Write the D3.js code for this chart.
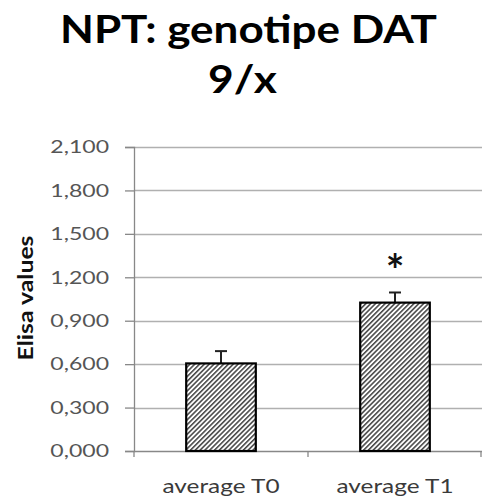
<!DOCTYPE html>
<html><head><meta charset="utf-8">
<script src="https://cdn.jsdelivr.net/npm/d3@7"></script>
<style>body{margin:0;background:#fff}svg{display:block}</style>
</head><body>
<script>
const categories = ["average T0", "average T1"];
const values = [0.605, 1.025];
const errors = [0.085, 0.07];
const significance = ["", "*"];
const yTicks = [0, 0.3, 0.6, 0.9, 1.2, 1.5, 1.8, 2.1];
const titleLines = ["NPT: genotipe DAT", "9/x"];
const yTitle = "Elisa values";

const W = 482, H = 499;
const m = {left: 134, right: 0, top: 147, bottom: 48};
const FONT = "Lato, 'Open Sans', sans-serif";
const svg = d3.select("body").append("svg").attr("width", W).attr("height", H);

function stretch(sel, k) {
  sel.each(function() {
    const w = this.getComputedTextLength();
    d3.select(this).attr("textLength", w * k).attr("lengthAdjust", "spacingAndGlyphs");
  });
}
function fitTo(sel, width) {
  sel.attr("textLength", width).attr("lengthAdjust", "spacingAndGlyphs");
}

const defs = svg.append("defs");
const pat = defs.append("pattern").attr("id", "hatch").attr("patternUnits", "userSpaceOnUse")
  .attr("width", 3.4).attr("height", 3.4).attr("patternTransform", "rotate(45)");
pat.append("rect").attr("width", 3.4).attr("height", 3.4).attr("fill", "#fff");
pat.append("line").attr("x1", 0.8).attr("y1", 0).attr("x2", 0.8).attr("y2", 3.4)
  .attr("stroke", "#222").attr("stroke-width", 1.3);

const y = d3.scaleLinear().domain([0, 2.1]).range([H - m.bottom, m.top]);
const x = d3.scaleBand().domain(categories).range([m.left, W - m.right]).paddingInner(0.6).paddingOuter(0.3);
const xb = d3.scaleBand().domain(categories).range([m.left, W - m.right]);

// gridlines
svg.append("g").selectAll("line").data(yTicks.slice(1)).join("line")
  .attr("x1", m.left).attr("x2", W - m.right)
  .attr("y1", d => Math.round(y(d)) + 0.5).attr("y2", d => Math.round(y(d)) + 0.5)
  .attr("stroke", "#b0b0b0").attr("stroke-width", 1.3);

// y axis
const fmt = d => d3.format(".3f")(d).replace(".", ",");
const ya = svg.append("g").attr("transform", `translate(${m.left},0)`)
  .call(d3.axisLeft(y).tickValues(yTicks).tickFormat(fmt).tickSize(9).tickPadding(16));
ya.select(".domain").attr("stroke", "#888").attr("stroke-width", 1.3);
ya.selectAll(".tick line").attr("stroke", "#888").attr("stroke-width", 1.3);
ya.selectAll("text").attr("font-family", FONT).attr("font-size", 18).attr("fill", "#555");
stretch(ya.selectAll("text"), 1.28);

// x axis
const xa = svg.append("g").attr("transform", `translate(0,${H - m.bottom})`)
  .call(d3.axisBottom(xb).tickSize(0).tickPadding(30));
xa.select(".domain").attr("stroke", "#888").attr("stroke-width", 1.3);
xa.selectAll("text").attr("font-family", FONT).attr("font-size", 19).attr("fill", "#3a3a3a")
  .attr("y", 42).attr("dy", 0);
fitTo(xa.selectAll("text"), 117);
// category boundary ticks
svg.append("g").selectAll("line").data(categories.concat(["end"])).join("line")
  .attr("x1", (d, i) => i < categories.length ? xb(d) : W - m.right - 1)
  .attr("x2", (d, i) => i < categories.length ? xb(d) : W - m.right - 1)
  .attr("y1", H - m.bottom).attr("y2", H - m.bottom + 6)
  .attr("stroke", "#888").attr("stroke-width", 1.3);

// error bars
const eb = svg.append("g").attr("stroke", "#222").attr("stroke-width", 2);
categories.forEach((c, i) => {
  const cx = x(c) + x.bandwidth() / 2;
  eb.append("line").attr("x1", cx).attr("x2", cx).attr("y1", y(values[i])).attr("y2", y(values[i] + errors[i]));
  eb.append("line").attr("x1", cx - 6).attr("x2", cx + 6).attr("y1", y(values[i] + errors[i])).attr("y2", y(values[i] + errors[i]));
});

// bars
svg.append("g").selectAll("rect").data(values).join("rect")
  .attr("x", (d, i) => x(categories[i])).attr("width", x.bandwidth())
  .attr("y", d => y(d)).attr("height", d => y(0) - y(d))
  .attr("fill", "url(#hatch)").attr("stroke", "#000").attr("stroke-width", 2.2);

// significance
svg.append("g").selectAll("text").data(significance).join("text")
  .attr("x", (d, i) => x(categories[i]) + x.bandwidth() / 2)
  .attr("y", (d, i) => y(values[i] + errors[i]) - 6)
  .attr("text-anchor", "middle").attr("font-family", FONT).attr("font-size", 44).attr("font-weight", "bold")
  .attr("fill", "#111").text(d => d);

// y title
const yt = svg.append("text").attr("transform", `translate(33,${(y(0) + y(2.1)) / 2 - 1}) rotate(-90)`)
  .attr("text-anchor", "middle").attr("font-family", FONT).attr("font-weight", "bold")
  .attr("font-size", 21).attr("fill", "#111").text(yTitle);
fitTo(yt, 125);

// title
const titleX = [248.5, 242.5], titleW = [377, 69];
titleLines.forEach((t, i) => {
  const tx = svg.append("text").attr("x", titleX[i]).attr("y", 43 + i * 50).attr("text-anchor", "middle")
    .attr("font-family", FONT).attr("font-weight", "bold").attr("font-size", 39)
    .attr("fill", "#000").text(t);
  fitTo(tx, titleW[i]);
});
</script>
</body></html>
